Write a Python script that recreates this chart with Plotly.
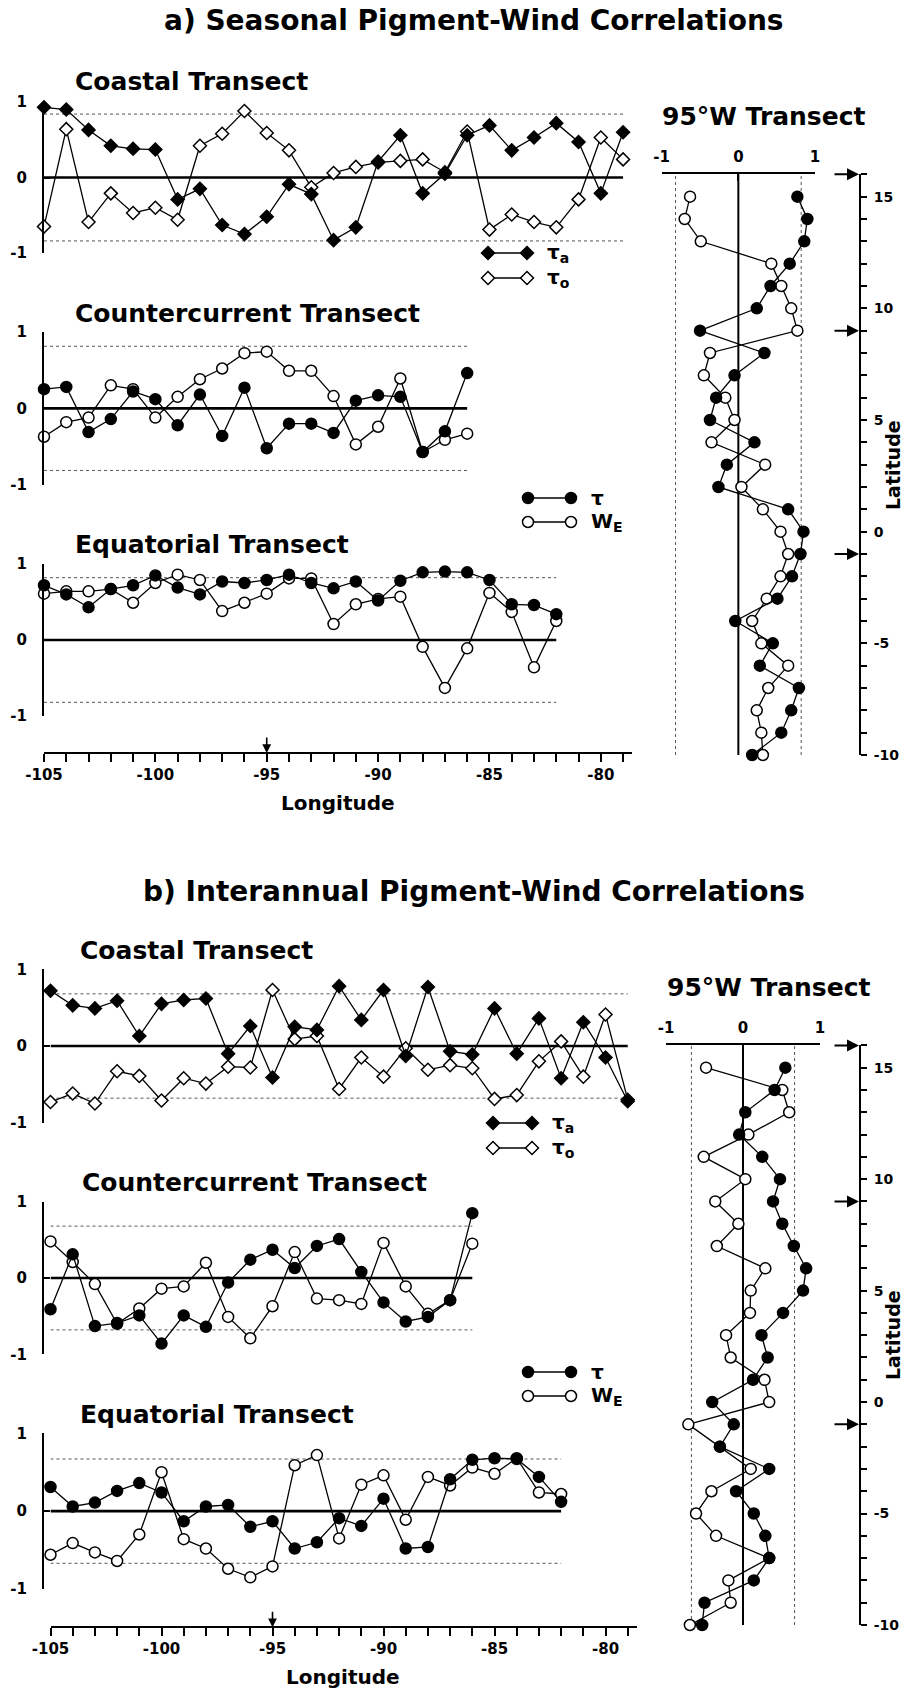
import plotly.graph_objects as go

W, H = 906, 1689
FONT = "DejaVu Sans"

# ---------------- data ----------------
lon_coastal = list(range(-105, -78))   # -105 .. -79
lon_counter = list(range(-105, -85))   # -105 .. -86
lon_equat = list(range(-105, -81))     # -105 .. -82
lat_95w = list(range(15, -11, -1))     # 15 .. -10
lat_top = 16

lon_ticks = [-105, -100, -95, -90, -85, -80]
lon_ticktext = ["-105", "-100", "-95", "-90", "-85", "-80"]
lat_ticks = [-10, -5, 0, 5, 10, 15]
lat_ticktext = ["-10", "-5", "0", "5", "10", "15"]
r_ticks = [-1, 0, 1]
r_ticktext = ["-1", "0", "1"]

# a) seasonal
a_coastal_tau_a = [0.93, 0.90, 0.63, 0.42, 0.38, 0.37, -0.29, -0.15, -0.63, -0.75, -0.52, -0.09, -0.22, -0.83, -0.66,
                   0.21, 0.56, -0.21, 0.05, 0.56, 0.69, 0.36, 0.53, 0.72, 0.47, -0.21, 0.60]
a_coastal_tau_o = [-0.65, 0.64, -0.59, -0.21, -0.47, -0.40, -0.56, 0.42, 0.58, 0.88, 0.59, 0.36, -0.13, 0.06,
                   0.14, 0.20, 0.22, 0.24, 0.07, 0.61, -0.69, -0.49, -0.59, -0.66, -0.29, 0.53, 0.24]
a_counter_tau = [0.25, 0.28, -0.31, -0.14, 0.22, 0.12, -0.22, 0.18, -0.36, 0.27, -0.52, -0.20, -0.20, -0.32, 0.10,
                 0.17, 0.15, -0.57, -0.30, 0.46]
a_counter_we = [-0.37, -0.18, -0.12, 0.30, 0.25, -0.12, 0.15, 0.38, 0.52, 0.72, 0.74, 0.49, 0.49, 0.16, -0.47,
                -0.24, 0.39, -0.57, -0.41, -0.33]
a_equat_tau = [0.72, 0.60, 0.43, 0.67, 0.72, 0.85, 0.69, 0.60, 0.77, 0.75, 0.79, 0.86, 0.75, 0.68, 0.77, 0.52,
               0.78, 0.89, 0.90, 0.89, 0.79, 0.47, 0.46, 0.34]
a_equat_we = [0.61, 0.64, 0.64, 0.67, 0.49, 0.75, 0.86, 0.79, 0.38, 0.49, 0.61, 0.81, 0.81, 0.21, 0.47, 0.54,
              0.57, -0.09, -0.63, -0.11, 0.62, 0.37, -0.36, 0.25]
a_95w_tau = [0.77, 0.90, 0.86, 0.67, 0.42, 0.24, -0.50, 0.34, -0.05, -0.29, -0.37,
             0.21, -0.15, -0.26, 0.65, 0.85, 0.81, 0.70, 0.51, -0.04, 0.45, 0.28, 0.79, 0.69, 0.56, 0.18]
a_95w_we = [-0.63, -0.70, -0.49, 0.43, 0.56, 0.69, 0.77, -0.37, -0.45, -0.17, -0.05,
            -0.35, 0.35, 0.04, 0.32, 0.55, 0.65, 0.55, 0.37, 0.18, 0.30, 0.65, 0.39, 0.24, 0.30, 0.32]

# b) interannual
b_coastal_tau_a = [0.72, 0.53, 0.49, 0.59, 0.13, 0.55, 0.60, 0.62, -0.10, 0.26, -0.41, 0.25, 0.21, 0.78, 0.34,
                   0.73, -0.13, 0.77, -0.07, -0.11, 0.49, -0.10, 0.36, -0.42, 0.31, -0.15, -0.72]
b_coastal_tau_o = [-0.73, -0.62, -0.75, -0.33, -0.39, -0.71, -0.42, -0.49, -0.27, -0.28, 0.73, 0.09, 0.13, -0.56,
                   -0.15, -0.40, -0.03, -0.31, -0.25, -0.29, -0.69, -0.64, -0.20, 0.06, -0.40, 0.41, -0.70]
b_counter_tau = [-0.41, 0.31, -0.63, -0.59, -0.49, -0.86, -0.49, -0.64, -0.06, 0.24, 0.37, 0.13, 0.42, 0.51, 0.08,
                 -0.32, -0.57, -0.51, -0.29, 0.85]
b_counter_we = [0.48, 0.21, -0.08, -0.60, -0.40, -0.14, -0.11, 0.20, -0.51, -0.79, -0.37, 0.34, -0.27, -0.29, -0.34,
                0.46, -0.11, -0.47, -0.29, 0.45]
b_equat_tau = [0.31, 0.06, 0.11, 0.26, 0.36, 0.24, -0.13, 0.06, 0.08, -0.20, -0.13, -0.48, -0.40, -0.09, -0.19,
               0.16, -0.48, -0.46, 0.41, 0.66, 0.68, 0.67, 0.44, 0.12]
b_equat_we = [-0.56, -0.41, -0.53, -0.64, -0.30, 0.50, -0.36, -0.48, -0.74, -0.85, -0.71, 0.59, 0.72, -0.35, 0.34,
              0.46, -0.11, 0.44, 0.33, 0.56, 0.48, 0.68, 0.24, 0.22]
b_95w_tau = [0.55, 0.41, 0.03, -0.05, 0.25, 0.48, 0.39, 0.51, 0.66, 0.82, 0.78, 0.52,
             0.24, 0.32, 0.13, -0.40, -0.12, -0.30, 0.34, -0.09, 0.14, 0.29, 0.34, 0.14, -0.50, -0.53]
b_95w_we = [-0.48, 0.51, 0.60, 0.07, -0.51, 0.03, -0.36, -0.06, -0.34, 0.29, 0.10, 0.09,
            -0.22, -0.16, 0.28, 0.34, -0.71, -0.30, 0.10, -0.41, -0.61, -0.35, 0.34, -0.19, -0.16, -0.69]

# significance levels (dotted lines)
a_sig_coastal, a_sig_counter, a_sig_equat, a_sig_95w = 0.84, 0.81, 0.82, 0.82
b_sig_coastal, b_sig_counter, b_sig_equat, b_sig_95w = 0.68, 0.68, 0.67, 0.67

lon_marker = -95
lat_arrows = [16, 9, -1]

# ---------------- helpers ----------------
def fx(px):
    return px / W


def fy(py):
    return 1 - py / H


fig = go.Figure()

LINE_W = 1.3
DOT = dict(color="#555555", width=1, dash="dot")


def mk(symbol, filled):
    size = 10 if symbol == "diamond" else 11
    return dict(symbol=symbol, size=size, color="black" if filled else "white",
                line=dict(color="black", width=1.5))


def transect(ax, lon, filled, opened, sym, sig):
    xa, ya = "x" + ax, "y" + ax
    ends = [lon[0], lon[-1]]
    for s in (sig, -sig):
        fig.add_trace(go.Scatter(x=ends, y=[s, s], xaxis=xa, yaxis=ya, mode="lines", line=DOT,
                                 hoverinfo="skip", showlegend=False))
    fig.add_trace(go.Scatter(x=ends, y=[0, 0], xaxis=xa, yaxis=ya, mode="lines",
                             line=dict(color="black", width=2.6), hoverinfo="skip", showlegend=False))
    fig.add_trace(go.Scatter(x=lon, y=opened, xaxis=xa, yaxis=ya, mode="lines+markers",
                             line=dict(color="black", width=LINE_W), marker=mk(sym, False),
                             cliponaxis=False, showlegend=False))
    fig.add_trace(go.Scatter(x=lon, y=filled, xaxis=xa, yaxis=ya, mode="lines+markers",
                             line=dict(color="black", width=LINE_W), marker=mk(sym, True),
                             cliponaxis=False, showlegend=False))


def meridional(ax, lat, tau, we, sig):
    xa, ya = "x" + ax, "y" + ax
    span = [lat[-1], lat_top]
    for s in (sig, -sig):
        fig.add_trace(go.Scatter(x=[s, s], y=span, xaxis=xa, yaxis=ya, mode="lines", line=DOT,
                                 hoverinfo="skip", showlegend=False))
    fig.add_trace(go.Scatter(x=[0, 0], y=span, xaxis=xa, yaxis=ya, mode="lines",
                             line=dict(color="black", width=2), hoverinfo="skip", showlegend=False))
    fig.add_trace(go.Scatter(x=we, y=lat, xaxis=xa, yaxis=ya, mode="lines+markers",
                             line=dict(color="black", width=LINE_W), marker=mk("circle", False),
                             cliponaxis=False, showlegend=False))
    fig.add_trace(go.Scatter(x=tau, y=lat, xaxis=xa, yaxis=ya, mode="lines+markers",
                             line=dict(color="black", width=LINE_W), marker=mk("circle", True),
                             cliponaxis=False, showlegend=False))


transect("", lon_coastal, a_coastal_tau_a, a_coastal_tau_o, "diamond", a_sig_coastal)
transect("2", lon_counter, a_counter_tau, a_counter_we, "circle", a_sig_counter)
transect("3", lon_equat, a_equat_tau, a_equat_we, "circle", a_sig_equat)
meridional("4", lat_95w, a_95w_tau, a_95w_we, a_sig_95w)
transect("5", lon_coastal, b_coastal_tau_a, b_coastal_tau_o, "diamond", b_sig_coastal)
transect("6", lon_counter, b_counter_tau, b_counter_we, "circle", b_sig_counter)
transect("7", lon_equat, b_equat_tau, b_equat_we, "circle", b_sig_equat)
meridional("8", lat_95w, b_95w_tau, b_95w_we, b_sig_95w)

# ---------------- legends (overlay axis in pixel space) ----------------
legend_items = [
    # (x0, x1, y, symbol, filled, label)
    (488, 527, 253, "diamond", True, "τ<sub>a</sub>"),
    (488, 527, 278, "diamond", False, "τ<sub>o</sub>"),
    (528, 571, 498, "circle", True, "τ"),
    (528, 571, 522, "circle", False, "W<sub>E</sub>"),
    (493, 532, 1123, "diamond", True, "τ<sub>a</sub>"),
    (493, 532, 1148, "diamond", False, "τ<sub>o</sub>"),
    (528, 571, 1372, "circle", True, "τ"),
    (528, 571, 1396, "circle", False, "W<sub>E</sub>"),
]
annotations = []
for x0, x1, y, sym, filled, lab in legend_items:
    fig.add_trace(go.Scatter(x=[x0, x1], y=[y, y], xaxis="x9", yaxis="y9", mode="lines+markers",
                             line=dict(color="black", width=LINE_W), marker=mk(sym, filled),
                             cliponaxis=False, hoverinfo="skip", showlegend=False))
    annotations.append(dict(x=fx(x1 + 18), y=fy(y), xref="paper", yref="paper", text=lab, showarrow=False,
                            xanchor="left", yanchor="middle",
                            font=dict(family=FONT, size=20, color="black", weight="bold")))

# ---------------- axes ----------------
def left_y(top, bot):
    return dict(domain=[fy(bot), fy(top)], range=[-1, 1], showline=True, linewidth=2, linecolor="black",
                ticks="inside", ticklen=6, tickwidth=2, tickcolor="black", tickvals=r_ticks,
                ticktext=r_ticktext, ticklabelstandoff=12, automargin=False,
                tickfont=dict(family=FONT, size=15, color="black", weight="bold"),
                showgrid=False, zeroline=False, fixedrange=True)


def hidden_x(x0, x1, anchor):
    return dict(domain=[fx(x0), fx(x1)], range=[-105, -78.6], visible=False, anchor=anchor, automargin=False,
                showgrid=False, zeroline=False, fixedrange=True)


def lon_axis(x0, x1, ypix):
    return dict(domain=[fx(x0), fx(x1)], range=[-105, -78.6], anchor="free", position=fy(ypix),
                showline=True, linewidth=2, linecolor="black", ticks="outside", ticklen=8, tickwidth=2,
                tickcolor="black", tickvals=lon_ticks, ticktext=lon_ticktext, automargin=False,
                minor=dict(dtick=1, tick0=-105, ticks="outside", ticklen=8, tickwidth=2, tickcolor="black",
                           showgrid=False),
                tickfont=dict(family=FONT, size=15, color="black", weight="bold"),
                showgrid=False, zeroline=False, fixedrange=True)


def top_x(x0, x1, anchor):
    return dict(domain=[fx(x0), fx(x1)], range=[-1, 1], side="top", anchor=anchor, showline=True,
                linewidth=2, linecolor="black", ticks="inside", ticklen=7, tickwidth=2, tickcolor="black",
                tickvals=r_ticks, ticktext=r_ticktext, automargin=False, ticklabelstandoff=4,
                tickfont=dict(family=FONT, size=15, color="black", weight="bold"),
                showgrid=False, zeroline=False, fixedrange=True)


def lat_axis(top, bot):
    return dict(domain=[fy(bot), fy(top)], range=[-10, 16], anchor="free", position=fx(860), side="right",
                showline=True, linewidth=2, linecolor="black", ticks="outside", ticklen=6, tickwidth=2,
                tickcolor="black", tickvals=lat_ticks, ticktext=lat_ticktext, automargin=False,
                minor=dict(dtick=1, tick0=0, ticks="outside", ticklen=6, tickwidth=2, tickcolor="black",
                           showgrid=False),
                ticklabelstandoff=4,
                tickfont=dict(family=FONT, size=14, color="black", weight="bold"),
                showgrid=False, zeroline=False, fixedrange=True)


AX0, AX1 = 44, 632
BX0, BX1 = 50.5, 636.6
layout = dict(
    template="none",
    width=W, height=H, margin=dict(l=0, r=0, t=0, b=0, pad=0, autoexpand=False),
    paper_bgcolor="white", plot_bgcolor="rgba(0,0,0,0)",
    showlegend=False,
    xaxis=hidden_x(AX0, AX1, "y"), yaxis=left_y(102, 253),
    xaxis2=hidden_x(AX0, AX1, "y2"), yaxis2=left_y(331.7, 485),
    xaxis3=lon_axis(AX0, AX1, 753), yaxis3=left_y(564, 716),
    xaxis4=top_x(661.7, 815, "y4"), yaxis4=lat_axis(174.3, 755),
    xaxis5=hidden_x(BX0, BX1, "y5"), yaxis5=left_y(969.3, 1122.7),
    xaxis6=hidden_x(BX0, BX1, "y6"), yaxis6=left_y(1201.7, 1354.3),
    xaxis7=lon_axis(BX0, BX1, 1627.3), yaxis7=left_y(1433.3, 1589),
    xaxis8=top_x(666, 820, "y8"), yaxis8=lat_axis(1045.4, 1625),
    xaxis9=dict(domain=[0, 1], range=[0, W], visible=False, fixedrange=True, anchor="y9", automargin=False),
    yaxis9=dict(domain=[0, 1], range=[H, 0], visible=False, fixedrange=True, anchor="x9", automargin=False),
)
fig.update_layout(**layout)


def text_ann(txt, xpx, ypx, size, xanchor="left", angle=0):
    annotations.append(dict(x=fx(xpx), y=fy(ypx), xref="paper", yref="paper", text=txt, showarrow=False,
                            xanchor=xanchor, yanchor="middle", textangle=angle,
                            font=dict(family=FONT, size=size, color="black", weight="bold")))


text_ann("a) Seasonal Pigment-Wind Correlations", 474, 20, 28, "center")
text_ann("b) Interannual Pigment-Wind Correlations", 474, 892, 28, "center")
text_ann("Coastal Transect", 73, 82, 25)
text_ann("Countercurrent Transect", 73, 313, 25)
text_ann("Equatorial Transect", 73, 544, 25)
text_ann("Coastal Transect", 78, 950, 25)
text_ann("Countercurrent Transect", 80, 1182, 25)
text_ann("Equatorial Transect", 78, 1414, 25)
text_ann("95°W Transect", 764, 117, 25, "center")
text_ann("95°W Transect", 769, 987, 25, "center")
text_ann("Longitude", 338, 803, 20, "center")
text_ann("Longitude", 343, 1677, 20, "center")
text_ann("Latitude", 893, 465, 19, "center", -90)
text_ann("Latitude", 893, 1335, 19, "center", -90)

# arrows on longitude axes at 95W
for xr, ypx in (("x3", 753), ("x7", 1627.3)):
    annotations.append(dict(x=lon_marker, y=fy(ypx), xref=xr, yref="paper", text="", showarrow=True,
                            ax=0, ay=-17, arrowhead=2, arrowsize=1.1, arrowwidth=1.6, arrowcolor="black"))
# arrows on latitude axes
for yr in ("y4", "y8"):
    for la in lat_arrows:
        annotations.append(dict(x=fx(859), y=la, xref="paper", yref=yr, text="", showarrow=True,
                                ax=-26, ay=0, arrowhead=2, arrowsize=1.2, arrowwidth=2, arrowcolor="black"))

fig.update_layout(annotations=annotations)
fig.write_html("out.html")
